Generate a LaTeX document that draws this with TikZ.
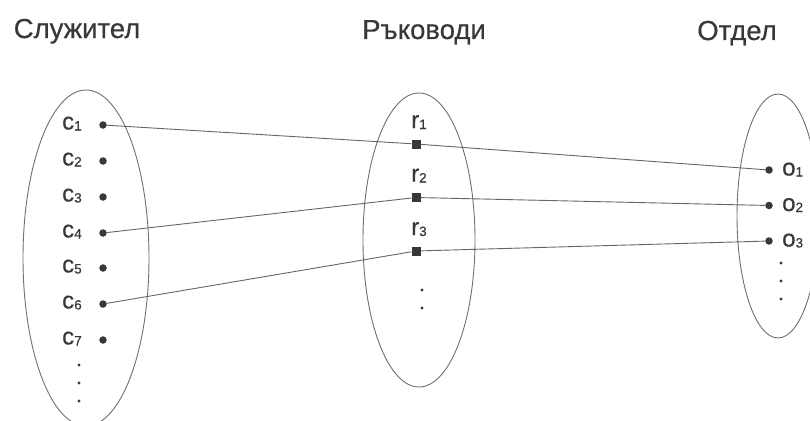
\documentclass[tikz,border=0pt]{standalone}
\usepackage{fontspec}
\setmainfont{Liberation Sans}[FakeBold=0.35]
\definecolor{txt}{HTML}{383838}
\definecolor{dotc}{HTML}{383838}
\definecolor{linec}{HTML}{666666}
\definecolor{ellc}{HTML}{707070}
\newcommand\lab[2]{#1\raisebox{-1pt}{\fontsize{13.5}{13.5}\selectfont #2}}
\begin{document}
\begin{tikzpicture}[x=1pt,y=-1pt,
  hdr/.style={font=\fontsize{27.5}{27.5}\selectfont, text=txt, anchor=base, inner sep=0},
  lbl/.style={font=\fontsize{24}{24}\selectfont, text=txt, anchor=base west, inner sep=0},
  bul/.style={circle, fill=dotc, inner sep=0, minimum size=7.5pt},
  sq/.style={rectangle, fill=dotc, inner sep=0, minimum size=9pt},
  conn/.style={draw=linec, line width=0.9pt},
  setell/.style={draw=ellc, line width=0.9pt},
  tdot/.style={circle, fill=txt, inner sep=0, minimum size=3.2pt}]
\useasboundingbox[fill=white] (0,0) rectangle (810,420);

% headers
\node[hdr] (h1) at (77,38) {Служител};
\node[hdr] (h2) at (424,39) {Ръководи};
\node[hdr] (h3) at (737,40) {Отдел};

% ellipses
\draw[setell] (86,258) ellipse [x radius=63, y radius=168];
\draw[setell] (419,240) ellipse [x radius=56, y radius=147];
\draw[setell] (778,216) ellipse [x radius=41, y radius=122];

% left set
\foreach \i/\y in {1/125,2/161,3/197,4/233,5/268,6/304,7/340}{
  \node[bul] (c\i) at (103,\y) {};
  \node[lbl] (cl\i) at (62,\y+4.5) {\lab{c}{\i}};
}
\node[tdot] (cd1) at (79,365) {};
\node[tdot] (cd2) at (79,383) {};
\node[tdot] (cd3) at (79,401) {};

% middle set
\foreach \i/\y in {1/144,2/197.5,3/251}{
  \node[sq] (r\i) at (416,\y) {};
  \node[lbl] (rl\i) at (411,\y-16) {\lab{r}{\i}};
}
\node[tdot] (rd1) at (422,290) {};
\node[tdot] (rd2) at (422,308) {};

% right set
\foreach \i/\y in {1/170,2/205.5,3/241}{
  \node[bul] (o\i) at (769,\y) {};
  \node[lbl] (ol\i) at (782,\y+5.5) {\lab{o}{\i}};
}
\node[tdot] (od1) at (781,263) {};
\node[tdot] (od2) at (781,281) {};
\node[tdot] (od3) at (781,299) {};

% connectors
\draw[conn] (c1) -- (r1) -- (o1);
\draw[conn] (c4) -- (r2) -- (o2);
\draw[conn] (c6) -- (r3) -- (o3);
\end{tikzpicture}
\end{document}
